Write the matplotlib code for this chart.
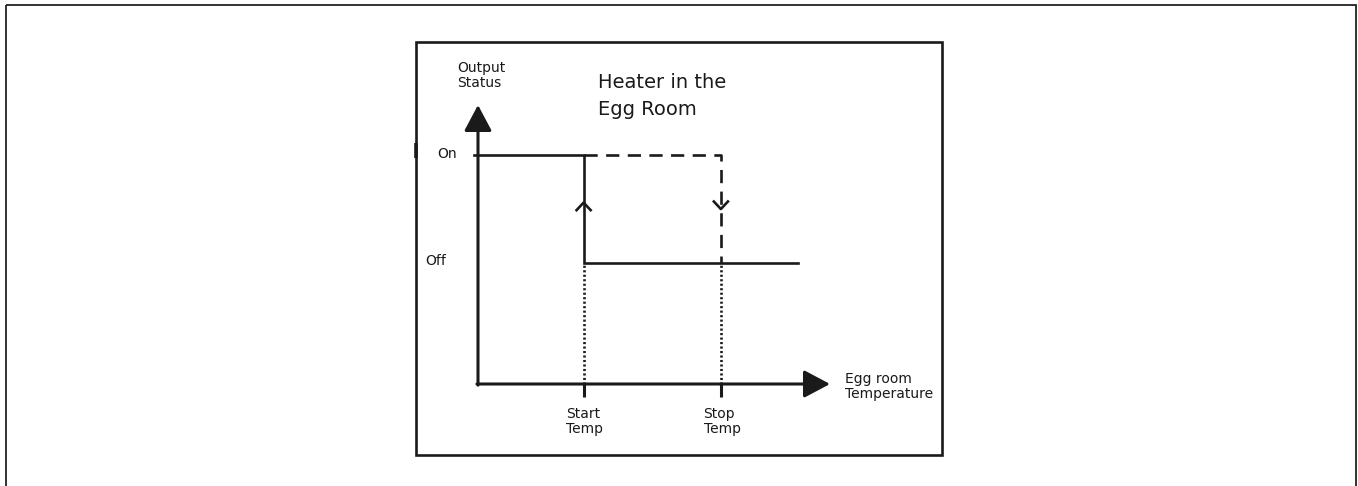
import matplotlib.pyplot as plt
from matplotlib.patches import Rectangle

plt.rcParams['font.family'] = ['DejaVu Sans']

# temperature axis (arbitrary units) and output status levels
temp_max = 10.0
start_temp = 3.0
stop_temp = 6.9
off_line_end = 9.1
status_max = 12.2
status_on = 10.0
status_off = 5.3

level_labels = ['On', 'Off']
level_values = [status_on, status_off]
temp_labels = ['Start\nTemp', 'Stop\nTemp']
temp_values = [start_temp, stop_temp]

ink = '#1a1a1a'
W, H = 1358, 486
fig = plt.figure(figsize=(W / 100, H / 100), dpi=100)

# background layer in pixel units for the frames
bg = fig.add_axes([0, 0, 1, 1])
bg.set_xlim(0, W)
bg.set_ylim(H, 0)
bg.axis('off')
bg.add_patch(Rectangle((5.5, 5.5), 1350, 500, fill=False, lw=1.3, ec='#222222'))
bg.add_patch(Rectangle((415.5, 42), 526, 413, fill=False, lw=1.9, ec=ink))
bg.plot([416, 416], [143, 158], color=ink, lw=2.6, solid_capstyle='butt')

# chart axes: origin at the corner of the two arrows
ax = fig.add_axes([478 / W, (H - 384) / H, 352 / W, 279 / H])
ax.set_xlim(0, temp_max)
ax.set_ylim(0, status_max)
ax.axis('off')

arrow = dict(arrowstyle='-|>,head_length=1.6,head_width=0.85', color=ink,
             lw=2.2, shrinkA=0, shrinkB=0, mutation_scale=10)
ax.annotate('', xy=(0, status_max), xytext=(0, -0.05), arrowprops=arrow,
            annotation_clip=False)
ax.annotate('', xy=(temp_max, 0), xytext=(-0.03, 0), arrowprops=arrow,
            annotation_clip=False)

# heating path (solid) and cooling path (dashed)
ax.plot([-0.12, start_temp, start_temp, off_line_end],
        [status_on, status_on, status_off, status_off],
        color=ink, lw=1.9, clip_on=False, solid_joinstyle='miter')
ax.plot([start_temp, stop_temp, stop_temp],
        [status_on, status_on, status_off],
        color=ink, lw=1.9, ls=(0, (5, 3.2)), clip_on=False)

# direction chevrons on the vertical transitions
dx, dy = 0.2, 0.33
up_y = status_off + 0.56 * (status_on - status_off)
ax.plot([start_temp - dx, start_temp, start_temp + dx],
        [up_y - dy, up_y, up_y - dy], color=ink, lw=1.9, clip_on=False)
down_y = status_off + 0.5 * (status_on - status_off)
ax.plot([stop_temp - dx, stop_temp, stop_temp + dx],
        [down_y + dy, down_y, down_y + dy], color=ink, lw=1.9, clip_on=False)

# dotted drop lines and tick marks on the temperature axis
for t in temp_values:
    ax.plot([t, t], [0, status_off], color=ink, lw=1.9, ls=(0, (0.8, 0.9)),
            clip_on=False)
    ax.plot([t, t], [0, -0.57], color=ink, lw=2.2, clip_on=False,
            solid_capstyle='butt')

for lbl, t in zip(temp_labels, temp_values):
    ax.annotate(lbl, xy=(t, 0), xytext=(-12.5, -16.5),
                textcoords='offset points', ha='left', va='top',
                fontsize=10, color=ink, linespacing=1.1,
                annotation_clip=False)

for lbl, v, off in zip(level_labels, level_values, [-29.5, -38]):
    ax.annotate(lbl, xy=(0, v), xytext=(off, 1), textcoords='offset points',
                ha='left', va='center', fontsize=10, color=ink,
                annotation_clip=False)

ax.annotate('Output\nStatus', xy=(0, status_max), xytext=(-15, 32),
            textcoords='offset points', ha='left', va='top', fontsize=10,
            color=ink, linespacing=1.1, annotation_clip=False)
ax.annotate('Egg room\nTemperature', xy=(temp_max, 0), xytext=(10.5, 9),
            textcoords='offset points', ha='left', va='top', fontsize=10,
            color=ink, linespacing=1.1, annotation_clip=False)

ax.text(start_temp + 0.4, status_max + 1.4, 'Heater in the\nEgg Room',
        ha='left', va='top', fontsize=14, color=ink, linespacing=1.55)

fig.savefig('out.png', dpi=100, facecolor='white')
